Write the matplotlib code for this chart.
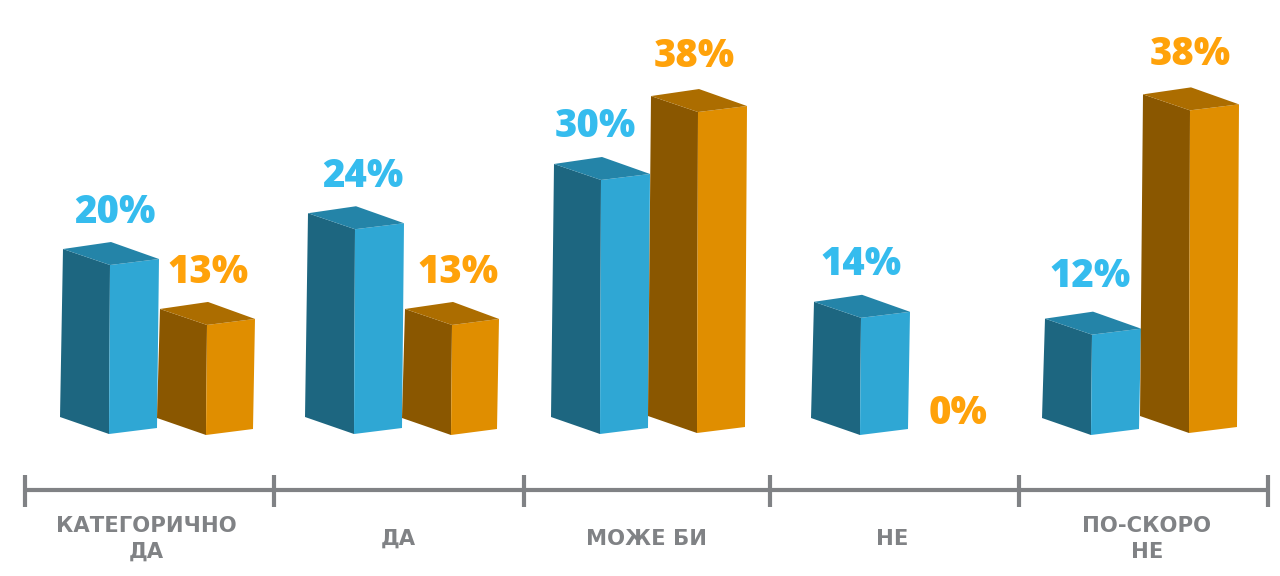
import matplotlib
matplotlib.use("Agg")
import matplotlib.pyplot as plt
from matplotlib.patches import Polygon

categories = ["КАТЕГОРИЧНО\nДА", "ДА", "МОЖЕ БИ", "НЕ", "ПО-СКОРО\nНЕ"]
blue_labels = [20, 24, 30, 14, 12]
orange_labels = [13, 13, 38, 0, 38]
# bar heights (labels are rounded)
blue_values = [19.95, 24.2, 30.05, 13.8, 11.8]
orange_values = [12.95, 12.95, 38.0, 0, 38.2]

# layout in reference pixels
blue_x = [60, 305, 551, 811, 1042]
orange_x = [157, 402, 648, 906, 1140]
orange_w = [96, 95, 97, 97, 97]
blue_base = [417, 417, 417, 418, 418]
orange_base = [418, 418, 416, 418, 416]
blue_dx = [5, 8, -6, 0, -2]
orange_dx = [1, 6, -4, 2, 0]
blue_dy = [30, 30, 30, 30, 35]
orange_dy = [29, 29, 33, 0, 33]
tick_x = [25, 274, 524, 770, 1019, 1268]
cat_x = [146, 398, 647, 892, 1147]
px_per_pct = 8.42

BLUE = ("#1d6680", "#2fa7d4", "#2484a8", "#35bcee")
ORANGE = ("#8a5700", "#e08e00", "#ac6d00", "#ffa20a")
GREY = "#808285"

fig = plt.figure(figsize=(12.8, 5.76), dpi=100, facecolor="white")
ax = fig.add_axes([0, 0, 1, 1])
ax.set_xlim(0, 1280)
ax.set_ylim(576, 0)
ax.axis("off")

LABEL_FONT = ["Open Sans", "DejaVu Sans"]


def bar3d(x, base, value, label, colors, dx, dy, w=97):
    h = value * px_per_pct
    if value > 0:
        lt = (x + 3, base - h)
        ft = (x + 50, base + 16 - h)
        rt = (x + w + 2, base + 10 - h)
        bt = (x + 51, base - 7 - h)
        ax.add_patch(Polygon([(x, base), (x + 49, base + 17), ft, lt],
                             closed=True, fc=colors[0], ec="none", zorder=3))
        ax.add_patch(Polygon([(x + 49, base + 17), (x + w, base + 11), rt, ft],
                             closed=True, fc=colors[1], ec="none", zorder=3))
        ax.add_patch(Polygon([lt, bt, rt, ft],
                             closed=True, fc=colors[2], ec="none", zorder=3))
        ax.text(ft[0] + dx, bt[1] - dy, f"{label}%", color=colors[3],
                fontsize=27.5, fontweight=800, family=LABEL_FONT,
                ha="center", va="center", zorder=4)
    else:
        ax.text(x + 52, base - 5, f"{label}%", color=colors[3],
                fontsize=27.5, fontweight=800, family=LABEL_FONT,
                ha="center", va="center", zorder=4)


for i in range(len(categories)):
    bar3d(blue_x[i], blue_base[i], blue_values[i], blue_labels[i], BLUE,
          blue_dx[i], blue_dy[i])
for i in range(len(categories)):
    bar3d(orange_x[i], orange_base[i], orange_values[i], orange_labels[i], ORANGE,
          orange_dx[i], orange_dy[i], orange_w[i])

# axis line and ticks
ax.plot([tick_x[0], tick_x[-1]], [490, 490], color=GREY, lw=3.0,
        solid_capstyle="butt", zorder=2)
for t in tick_x:
    ax.plot([t, t], [475, 507], color=GREY, lw=3.0,
            solid_capstyle="butt", zorder=2)

for xc, c in zip(cat_x, categories):
    ax.text(xc, 539, c, color=GREY, fontsize=15.2, fontweight="bold",
            family="DejaVu Sans", ha="center", va="center", linespacing=1.32)

fig.savefig("out.png", dpi=100, facecolor="white")
